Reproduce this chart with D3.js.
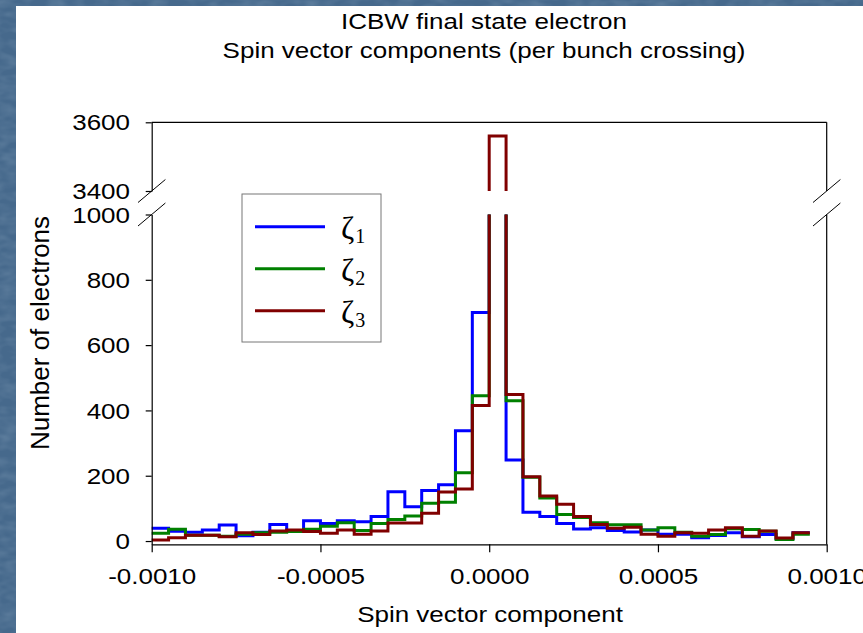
<!DOCTYPE html>
<html>
<head>
<meta charset="utf-8">
<script src="https://cdn.jsdelivr.net/npm/d3@7"></script>
<style>
  html, body { margin: 0; padding: 0; background: #46698c; }
  svg { display: block; }
  text { font-family: "Liberation Sans", Arial, sans-serif; fill: #000; }
</style>
</head>
<body>
<div id="graph"></div>
<script>
/* Data (left edge of each bin, counts per bin) */
const binStart = [
  -0.00100, -0.00095, -0.00090, -0.00085, -0.00080, -0.00075, -0.00070, -0.00065,
  -0.00060, -0.00055, -0.00050, -0.00045, -0.00040, -0.00035, -0.00030, -0.00025,
  -0.00020, -0.00015, -0.00010, -0.00005, 0.00000, 0.00005, 0.00010, 0.00015,
  0.00020, 0.00025, 0.00030, 0.00035, 0.00040, 0.00045, 0.00050, 0.00055,
  0.00060, 0.00065, 0.00070, 0.00075, 0.00080, 0.00085, 0.00090
];
const binWidth = 0.00005;

const zeta1 = [39, 30, 27, 34, 49, 16, 27, 51, 30, 62, 54, 62, 59, 75, 151, 105, 155, 172, 338, 700,
  2700, 248, 88, 75, 54, 37, 41, 32, 28, 34, 21, 21, 10, 17, 25, 13, 20, 8, 25];
const zeta2 = [24, 36, 18, 18, 15, 21, 25, 27, 29, 36, 45, 56, 32, 54, 66, 77, 116, 119, 209, 445,
  2900, 430, 195, 132, 81, 72, 56, 50, 50, 34, 41, 27, 15, 20, 38, 35, 30, 5, 21];
const zeta3 = [3, 10, 18, 18, 13, 25, 20, 31, 34, 29, 24, 34, 21, 31, 55, 55, 85, 150, 159, 415,
  3560, 449, 197, 138, 113, 75, 51, 39, 42, 21, 15, 25, 24, 34, 41, 15, 31, 9, 25];

const seriesSub = ["1", "2", "3"];
const seriesColor = ["#0000ff", "#008000", "#800000"];

const xTicks = [-0.0010, -0.0005, 0.0000, 0.0005, 0.0010];
const yTicksLow = [0, 200, 400, 600, 800, 1000];
const yTicksHigh = [3400, 3600];

const titleLines = ["ICBW final state electron", "Spin vector components (per bunch crossing)"];
const xTitle = "Spin vector component";
const yTitle = "Number of electrons";

window.addEventListener("DOMContentLoaded", main);

function main() {
    const W = 863, H = 633;
    const SQ = 0.83;   // horizontal text in the original is squashed vertically
    const FS = 26;

    const svg = d3.select("#graph").append("svg").attr("width", W).attr("height", H);
    const defs = svg.append("defs");

    /* blue textured slide background */
    const f = defs.append("filter").attr("id", "noise");
    f.append("feTurbulence").attr("type", "fractalNoise").attr("baseFrequency", "0.06 0.12")
        .attr("numOctaves", 2).attr("seed", 4);
    f.append("feColorMatrix").attr("type", "matrix")
        .attr("values", "0 0 0 0 0.55  0 0 0 0 0.68  0 0 0 0 0.8  0.9 0 0 0 -0.3");
    svg.append("rect").attr("width", W).attr("height", H).attr("fill", "#46698c");
    svg.append("rect").attr("width", W).attr("height", H).attr("filter", "url(#noise)").attr("opacity", 0.35);

    /* white chart panel */
    svg.append("rect").attr("x", 16).attr("y", 6).attr("width", W - 16).attr("height", H - 6).attr("fill", "#fff");

    /* scales: one x, two y pieces for the broken axis */
    const L = 151.7, R = 826.7;
    const x = d3.scaleLinear().domain([-0.001, 0.001]).range([L, R]);
    const yLow = d3.scaleLinear().domain([-10, 1000]).range([544.3, 214.5]);
    const yHigh = d3.scaleLinear().domain([3400, 3600]).range([191, 122.3]);

    defs.append("clipPath").attr("id", "clipLow").append("rect")
        .attr("x", L - 3).attr("y", yLow(1000)).attr("width", R - L + 6).attr("height", yLow(-10) - yLow(1000));
    defs.append("clipPath").attr("id", "clipHigh").append("rect")
        .attr("x", L - 3).attr("y", yHigh(3600)).attr("width", R - L + 6).attr("height", yHigh(3400) - yHigh(3600));

    /* histogram steps */
    const series = [zeta1, zeta2, zeta3];
    function pts(vals) {
        const p = vals.map((v, i) => [binStart[i], v]);
        p.push([binStart[vals.length - 1] + binWidth, vals[vals.length - 1]]);
        return p;
    }
    [[yLow, "clipLow"], [yHigh, "clipHigh"]].forEach(([ys, clip]) => {
        const line = d3.line().x(d => x(d[0])).y(d => ys(d[1])).curve(d3.curveStepAfter);
        svg.append("g").attr("clip-path", `url(#${clip})`)
            .selectAll("path")
            .data(series)
            .enter()
            .append("path")
            .attr("d", d => line(pts(d)))
            .attr("fill", "none")
            .attr("stroke", (d, i) => seriesColor[i])
            .attr("stroke-width", 3)
            .attr("stroke-linejoin", "miter");
    });

    /* X axis */
    const xAxis = d3.axisBottom(x).tickValues(xTicks).tickSize(8).tickSizeOuter(0)
        .tickFormat(d => d.toFixed(4));
    const gx = svg.append("g").attr("transform", `translate(0,${yLow(-10)})`).call(xAxis);
    gx.attr("font-size", null).attr("font-family", null);
    gx.selectAll("line, path").attr("stroke", "#000").attr("stroke-width", 1.2);
    gx.selectAll("text")
        .attr("y", null).attr("dy", null)
        .attr("font-size", FS)
        .attr("transform", `translate(0,39.5) scale(1,${SQ})`);

    /* Y axis, lower and upper pieces */
    function yAxisPart(scale, ticks) {
        const g = svg.append("g").attr("transform", `translate(${L},0)`)
            .call(d3.axisLeft(scale).tickValues(ticks).tickSize(6).tickSizeOuter(0).tickFormat(d3.format("d")));
        g.attr("font-size", null).attr("font-family", null);
        g.selectAll("line, path").attr("stroke", "#000").attr("stroke-width", 1.2);
        g.selectAll("text")
            .attr("x", null).attr("dy", null)
            .attr("font-size", FS)
            .attr("transform", `translate(-21.7,7.6) scale(1,${SQ})`);
        return g;
    }
    yAxisPart(yLow, yTicksLow);
    yAxisPart(yHigh, yTicksHigh);

    /* rest of the frame */
    const frame = svg.append("g").attr("stroke", "#000").attr("stroke-width", 1.2);
    frame.append("line").attr("x1", L).attr("x2", R).attr("y1", yHigh(3600)).attr("y2", yHigh(3600));
    frame.append("line").attr("x1", R).attr("x2", R).attr("y1", yHigh(3600)).attr("y2", yHigh(3400));
    frame.append("line").attr("x1", R).attr("x2", R).attr("y1", yLow(1000)).attr("y2", yLow(-10));

    /* axis break marks */
    const breaks = [[L, yHigh(3400)], [L, yLow(1000)], [R, yHigh(3400)], [R, yLow(1000)]];
    frame.selectAll(".brk")
        .data(breaks)
        .enter()
        .append("line")
        .attr("class", "brk")
        .attr("stroke-width", 1)
        .attr("x1", d => d[0] - 13.7).attr("y1", d => d[1] + 11.5)
        .attr("x2", d => d[0] + 13.7).attr("y2", d => d[1] - 11.5);

    /* titles */
    svg.selectAll(".title")
        .data(titleLines)
        .enter()
        .append("text")
        .attr("class", "title")
        .attr("text-anchor", "middle")
        .attr("font-size", FS)
        .attr("transform", (d, i) => `translate(484,${i === 0 ? 29 : 57.5}) scale(1,${SQ})`)
        .text(d => d);

    svg.append("text")
        .attr("text-anchor", "middle")
        .attr("font-size", FS)
        .attr("transform", `translate(490,622) scale(1,${SQ})`)
        .text(xTitle);

    svg.append("text")
        .attr("text-anchor", "middle")
        .attr("font-size", FS)
        .attr("transform", "translate(48.5,333) rotate(-90)")
        .text(yTitle);

    /* legend */
    const lg = svg.append("g").attr("id", "legend");
    lg.append("rect").attr("x", 242).attr("y", 194).attr("width", 139).attr("height", 148)
        .attr("fill", "#fff").attr("stroke", "#777").attr("stroke-width", 1);
    const item = lg.selectAll(".legend-item")
        .data(seriesSub)
        .enter()
        .append("g")
        .attr("class", "legend-item")
        .attr("transform", (d, i) => `translate(0,${226.7 + i * 42})`);
    item.append("line")
        .attr("x1", 255).attr("x2", 325).attr("y1", 0).attr("y2", 0)
        .attr("stroke", (d, i) => seriesColor[i]).attr("stroke-width", 3);
    const t = item.append("text")
        .attr("x", 341).attr("y", 12)
        .style("font-family", "'Liberation Serif', 'Times New Roman', serif")
        .attr("font-size", 32);
    t.append("tspan").text("\u03B6");
    t.append("tspan").attr("dx", 1).attr("dy", 4).attr("font-size", 20).text(d => d);
}
</script>
</body>
</html>
